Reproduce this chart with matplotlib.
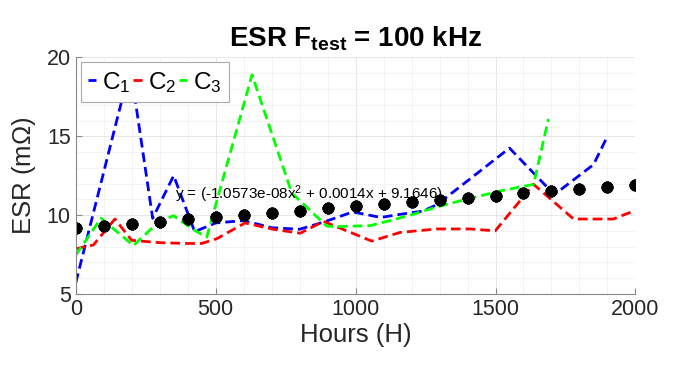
import numpy as np
import matplotlib
matplotlib.use("Agg")
import matplotlib.pyplot as plt
from matplotlib.ticker import MultipleLocator

plt.rcParams['font.family'] = ['Liberation Sans', 'DejaVu Sans']
plt.rcParams['mathtext.fontset'] = 'custom'
plt.rcParams['mathtext.rm'] = 'Liberation Sans'
plt.rcParams['mathtext.it'] = 'Liberation Sans:italic'
plt.rcParams['mathtext.bf'] = 'Liberation Sans:bold'
plt.rcParams['mathtext.default'] = 'regular'

# C1 (blue)
c1_hours = [0, 195, 275, 350, 425, 500, 600, 700, 800, 885, 990, 1090, 1160, 1240, 1290, 1550, 1710, 1850, 1900]
c1_esr = [5.7, 19.4, 9.8, 12.5, 8.95, 9.5, 9.65, 9.2, 9.1, 9.55, 10.2, 9.85, 10.05, 10.25, 10.65, 14.25, 11.3, 13.2, 15.0]

# C2 (red)
c2_hours = [0, 27, 63, 140, 200, 300, 400, 450, 504, 605, 706, 802, 885, 1058, 1159, 1290, 1409, 1499, 1636, 1779, 1921, 2000]
c2_esr = [7.85, 7.97, 8.1, 9.75, 8.4, 8.25, 8.2, 8.2, 8.5, 9.5, 9.1, 8.85, 9.6, 8.35, 8.9, 9.12, 9.12, 9.0, 11.95, 9.75, 9.75, 10.3]

# C3 (green)
c3_hours = [0, 90, 206, 295, 349, 426, 468, 630, 772, 897, 933, 1052, 1123, 1189, 1284, 1373, 1516, 1636, 1689]
c3_esr = [7.45, 9.8, 8.07, 9.54, 9.96, 9.02, 8.6, 18.9, 11.4, 9.3, 9.27, 9.33, 9.65, 9.96, 10.48, 10.9, 11.53, 11.95, 16.1]

# fitted trend (black markers)
fit_hours = [0, 100, 200, 300, 400, 500, 600, 700, 800, 900, 1000,
             1100, 1200, 1300, 1400, 1500, 1600, 1700, 1800, 1900, 2000]
fit_esr = [9.16, 9.30, 9.44, 9.58, 9.72, 9.86, 10.00, 10.14, 10.28, 10.42, 10.55,
           10.69, 10.83, 10.97, 11.10, 11.24, 11.38, 11.51, 11.65, 11.79, 11.92]

fit_label = r"y = (-1.0573e-08x$^2$ + 0.0014x + 9.1646)"

fig = plt.figure(figsize=(6.76, 3.66), dpi=100)
ax = fig.add_axes([0.112, 0.197, 0.828, 0.646])

dash = (3.5, 1.8)
ax.plot(c1_hours, c1_esr, color=(0, 0, 1), lw=2, ls='--', dashes=dash, label=r"C$_1$")
ax.plot(c2_hours, c2_esr, color=(1, 0, 0), lw=2, ls='--', dashes=dash, label=r"C$_2$")
ax.plot(c3_hours, c3_esr, color=(0, 1, 0), lw=2, ls='--', dashes=dash, label=r"C$_3$")
ax.plot(fit_hours, fit_esr, ls='none', marker=(8, 2, 0), ms=8.5, mew=2.6, color='black')

ax.text(355, 11.3, fit_label, fontsize=11, va='center', ha='left')

ax.set_xlim(0, 2000)
ax.set_ylim(5, 20)
ax.xaxis.set_major_locator(MultipleLocator(500))
ax.xaxis.set_minor_locator(MultipleLocator(100))
ax.yaxis.set_major_locator(MultipleLocator(5))
ax.yaxis.set_minor_locator(MultipleLocator(1))
ax.grid(which='major', color='#e3e3e3', lw=0.6)
ax.grid(which='minor', color='#eeeeee', lw=0.5)
ax.set_axisbelow(True)

for s in ['top', 'right']:
    ax.spines[s].set_visible(False)
for s in ['left', 'bottom']:
    ax.spines[s].set_color('#888888')
    ax.spines[s].set_linewidth(0.8)
ax.tick_params(which='major', direction='in', length=4, color='#888888',
               labelsize=15.5, labelcolor='#262626')
ax.tick_params(which='minor', length=0)

ax.set_xlabel("Hours (H)", fontsize=18.5, color='#262626', labelpad=2)
ax.set_ylabel(r"ESR (m$\Omega$)", fontsize=18.5, color='#262626', labelpad=6)
ax.set_title(r"ESR F$_{\mathbf{test}}$ = 100 kHz", fontsize=20, fontweight='bold', pad=8)

leg = ax.legend(loc='upper left', ncol=3, fontsize=17.5, handlelength=0.35,
                handletextpad=0.25, columnspacing=0.1, borderpad=0.3,
                borderaxespad=0.2, fancybox=False, framealpha=1)
leg.get_frame().set_edgecolor('#aaaaaa')
leg.get_frame().set_linewidth(0.8)

fig.savefig("out.png", dpi=100)
